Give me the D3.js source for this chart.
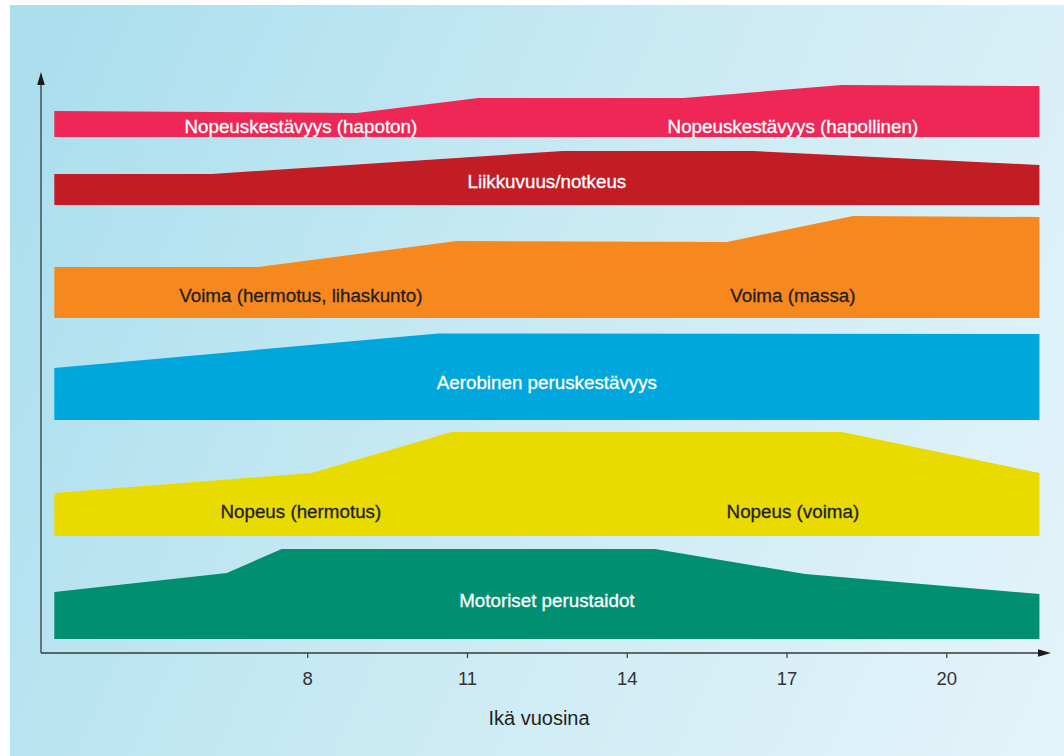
<!DOCTYPE html>
<html>
<head>
<meta charset="utf-8">
<script src="https://cdn.jsdelivr.net/npm/d3@7"></script>
<style>
  html, body { margin: 0; padding: 0; background: #ffffff; }
  svg { display: block; }
  text { font-family: "Liberation Sans", Arial, Helvetica, sans-serif; }
</style>
</head>
<body>
<svg id="chart" width="1064" height="756"></svg>
<script>
// Ages (years) at which each band's upper edge changes slope, and the level there
const speedEnduranceAges   = [3.25, 8.93, 11.21, 15.06, 18.04, 21.75];
const speedEnduranceLevels = [54.2, 54.0, 55.5, 55.5, 56.8, 56.7];

const mobilityAges   = [3.25, 6.21, 12.80, 16.37, 21.75];
const mobilityLevels = [47.9, 47.9, 50.2, 50.2, 48.8];

const strengthAges   = [3.25, 7.08, 10.81, 15.88, 18.25, 21.75];
const strengthLevels = [38.6, 38.6, 41.2, 41.1, 43.7, 43.6];

const aerobicAges   = [3.25, 10.46, 21.75];
const aerobicLevels = [28.5, 31.95, 31.9];

const speedAges   = [3.25, 8.08, 10.71, 18.04, 21.75];
const speedLevels = [16.0, 18.0, 22.1, 22.1, 18.0];

const motorAges   = [3.25, 6.49, 7.52, 14.53, 17.35, 21.75];
const motorLevels = [6.1, 8.0, 10.4, 10.4, 7.9, 5.9];

// Lower edge of each band, top to bottom
const bandBases = [51.6, 44.8, 33.5, 23.3, 11.7, 1.4];

// Labels written inside each band
const speedEnduranceLabels = ["Nopeuskestävyys (hapoton)", "Nopeuskestävyys (hapollinen)"];
const mobilityLabels       = ["Liikkuvuus/notkeus"];
const strengthLabels       = ["Voima (hermotus, lihaskunto)", "Voima (massa)"];
const aerobicLabels        = ["Aerobinen peruskestävyys"];
const speedLabels          = ["Nopeus (hermotus)", "Nopeus (voima)"];
const motorLabels          = ["Motoriset perustaidot"];

const tickAges = [8, 11, 14, 17, 20];
const xTitle = "Ikä vuosina";

// ---- layout ----
const svg = d3.select("#chart");
const W = 1064, H = 756;

const x = d3.scaleLinear().domain([3, 22]).range([41, 1052.75]);
const y = d3.scaleLinear().domain([0, 58]).range([653, 73]);

// background panel with soft diagonal gradient
const defs = svg.append("defs");
const grad = defs.append("linearGradient")
  .attr("id", "bg")
  .attr("gradientUnits", "userSpaceOnUse")
  .attr("x1", 10).attr("y1", 150)
  .attr("x2", 1064).attr("y2", 620);
grad.append("stop").attr("offset", 0).attr("stop-color", "#abdfee");
grad.append("stop").attr("offset", 0.5).attr("stop-color", "#cbeaf4");
grad.append("stop").attr("offset", 1).attr("stop-color", "#e2f3f9");

svg.append("rect")
  .attr("x", 10).attr("y", 5)
  .attr("width", W - 10).attr("height", H - 5)
  .attr("fill", "url(#bg)");

const bands = [
  { ages: speedEnduranceAges, levels: speedEnduranceLevels, base: bandBases[0], color: "#ef2756",
    labels: speedEnduranceLabels, labelAges: [7.88, 17.12], labelLevel: 52.65, text: "#ffffff" },
  { ages: mobilityAges, levels: mobilityLevels, base: bandBases[1], color: "#c21d25",
    labels: mobilityLabels, labelAges: [12.5], labelLevel: 47.2, text: "#ffffff" },
  { ages: strengthAges, levels: strengthLevels, base: bandBases[2], color: "#f7881d",
    labels: strengthLabels, labelAges: [7.88, 17.12], labelLevel: 35.8, text: "#231f20" },
  { ages: aerobicAges, levels: aerobicLevels, base: bandBases[3], color: "#00a7dd",
    labels: aerobicLabels, labelAges: [12.5], labelLevel: 27.1, text: "#ffffff" },
  { ages: speedAges, levels: speedLevels, base: bandBases[4], color: "#e9da00",
    labels: speedLabels, labelAges: [7.88, 17.12], labelLevel: 14.2, text: "#231f20" },
  { ages: motorAges, levels: motorLevels, base: bandBases[5], color: "#008f70",
    labels: motorLabels, labelAges: [12.5], labelLevel: 5.3, text: "#ffffff" }
];

const area = d3.area()
  .x(d => x(d.age))
  .y0(d => y(d.base))
  .y1(d => y(d.level))
  .curve(d3.curveLinear);

const bandG = svg.append("g");
bands.forEach(b => {
  const pts = b.ages.map((a, i) => ({ age: a, level: b.levels[i], base: b.base }));
  bandG.append("path")
    .attr("d", area(pts))
    .attr("fill", b.color);
  b.labels.forEach((t, i) => {
    bandG.append("text")
      .attr("x", x(b.labelAges[i]))
      .attr("y", y(b.labelLevel))
      .attr("dy", "0.35em")
      .attr("text-anchor", "middle")
      .attr("font-size", 18.8)
      .attr("fill", b.text)
      .attr("stroke", b.text)
      .attr("stroke-width", 0.3)
      .text(t);
  });
});

// axes
const axisColor = "#3a3a3a";
const axisG = svg.append("g");
axisG.append("line")
  .attr("x1", x(3)).attr("x2", 1040)
  .attr("y1", y(0)).attr("y2", y(0))
  .attr("stroke", axisColor).attr("stroke-width", 1.3);
axisG.append("line")
  .attr("x1", x(3)).attr("x2", x(3))
  .attr("y1", y(0)).attr("y2", 84)
  .attr("stroke", axisColor).attr("stroke-width", 1.3);
// arrow heads
axisG.append("path")
  .attr("d", `M${x(3)},72 L${x(3) - 3.8},85 L${x(3) + 3.8},85 Z`)
  .attr("fill", "#1a1a1a");
axisG.append("path")
  .attr("d", `M1051,${y(0)} L1038,${y(0) - 3.8} L1038,${y(0) + 3.8} Z`)
  .attr("fill", "#1a1a1a");

const xAxis = d3.axisBottom(x)
  .tickValues(tickAges)
  .tickSize(5)
  .tickPadding(14)
  .tickFormat(d3.format("d"));
const xAxisG = svg.append("g")
  .attr("transform", `translate(0,${y(0)})`)
  .call(xAxis);
xAxisG.select(".domain").remove();
xAxisG.selectAll(".tick line").attr("stroke", axisColor).attr("stroke-width", 1.2);
xAxisG.selectAll(".tick text")
  .attr("fill", "#333333")
  .attr("font-size", 18.5)
  .attr("font-family", "'Liberation Sans', Arial, sans-serif");

svg.append("text")
  .attr("x", 539)
  .attr("y", 725)
  .attr("text-anchor", "middle")
  .attr("font-size", 20)
  .attr("fill", "#222222")
  .text(xTitle);
</script>
</body>
</html>
